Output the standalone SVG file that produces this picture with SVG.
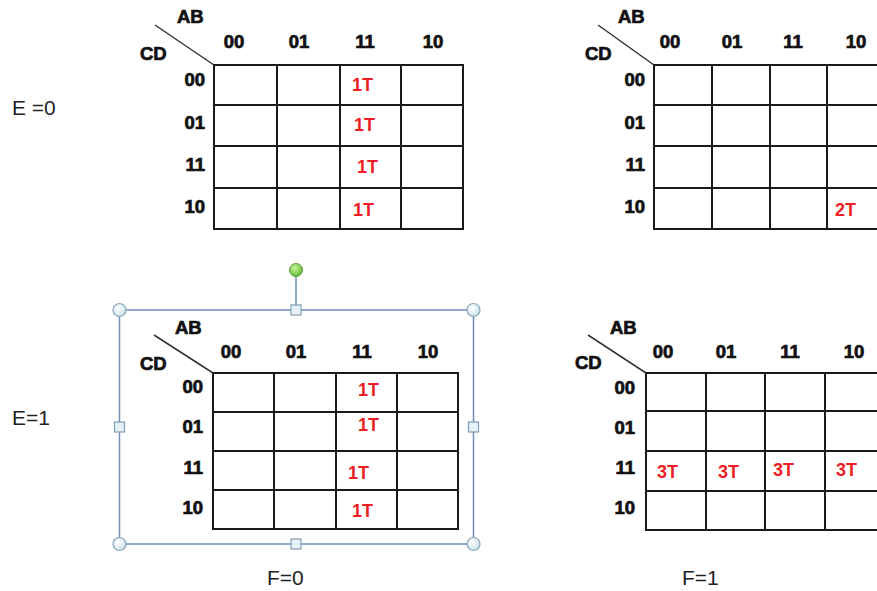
<svg xmlns="http://www.w3.org/2000/svg" width="877" height="591" viewBox="0 0 877 591">
<style>
.grid{fill:none;stroke:#1a1a1a;stroke-width:2}
.diag{stroke:#333;stroke-width:1.5}
.hd{font-family:"Liberation Sans",Arial,sans-serif;font-weight:bold;font-size:18.5px;fill:#111;stroke:#111;stroke-width:0.7}
.rl{text-anchor:end}
.cm{text-anchor:middle}
.val{font-family:"Liberation Sans",Arial,sans-serif;font-weight:bold;font-size:18px;fill:#ee1c24}
.lbl{font-family:"Liberation Sans",Arial,sans-serif;font-size:21px;fill:#222}
.sel{fill:none;stroke:#6f8fb5;stroke-width:1.5}
.hc{fill:url(#hg);stroke:#8aa5bb;stroke-width:1.2}
.hs{fill:#e6f1f6;stroke:#7f9fbb;stroke-width:1.2}
</style>
<defs>
<radialGradient id="hg" cx="0.4" cy="0.35" r="0.7">
<stop offset="0" stop-color="#ffffff"/>
<stop offset="1" stop-color="#c7dfe8"/>
</radialGradient>
<radialGradient id="gg" cx="0.4" cy="0.35" r="0.7">
<stop offset="0" stop-color="#c6f59a"/>
<stop offset="1" stop-color="#5cb82e"/>
</radialGradient>
</defs>
<rect width="877" height="591" fill="#fff"/>

<g id="label-e0"><text class="lbl" x="12" y="115">E =0</text></g>
<g id="label-e1"><text class="lbl" x="12" y="425">E=1</text></g>
<g id="label-f0"><text class="lbl" x="267" y="585">F=0</text></g>
<g id="label-f1"><text class="lbl" x="682" y="585">F=1</text></g>

<g id="kmap-e0-f0">
<line class="diag" x1="155" y1="25" x2="214" y2="65"/>
<path class="grid" d="M214,65H463V229H214Z M277,65V229 M340,65V229 M401,65V229 M214,105H463 M214,146H463 M214,188H463"/>
<text class="hd" x="177" y="23">AB</text>
<text class="hd" x="140" y="60">CD</text>
<text class="hd cm" x="234" y="48">00</text>
<text class="hd cm" x="299" y="48">01</text>
<text class="hd cm" x="365" y="48">11</text>
<text class="hd cm" x="433" y="48">10</text>
<text class="hd rl" x="205" y="86">00</text>
<text class="hd rl" x="205" y="129">01</text>
<text class="hd rl" x="205" y="171">11</text>
<text class="hd rl" x="205" y="213">10</text>
<text class="val" x="352" y="91">1T</text>
<text class="val" x="354" y="131">1T</text>
<text class="val" x="357" y="173">1T</text>
<text class="val" x="353" y="216">1T</text>
</g>

<g id="kmap-e0-f1">
<line class="diag" x1="598" y1="25" x2="654" y2="65"/>
<path class="grid" d="M654,65H884V229H654Z M712,65V229 M770,65V229 M827,65V229 M654,105H884 M654,146H884 M654,188H884"/>
<text class="hd" x="618" y="23">AB</text>
<text class="hd" x="585" y="60">CD</text>
<text class="hd cm" x="670" y="48">00</text>
<text class="hd cm" x="732" y="48">01</text>
<text class="hd cm" x="793" y="48">11</text>
<text class="hd cm" x="856" y="48">10</text>
<text class="hd rl" x="645" y="86">00</text>
<text class="hd rl" x="645" y="129">01</text>
<text class="hd rl" x="645" y="171">11</text>
<text class="hd rl" x="645" y="213">10</text>
<text class="val" x="835" y="216">2T</text>
</g>

<g id="selection">
<line class="sel" x1="296" y1="277" x2="296" y2="305"/>
<rect class="sel" x="119.5" y="310" width="354" height="234"/>
<circle cx="296" cy="270" r="6.5" fill="url(#gg)" stroke="#5a9a3a" stroke-width="1"/>
<circle class="hc" cx="119.5" cy="310" r="6.5"/>
<circle class="hc" cx="473.5" cy="310" r="6.5"/>
<circle class="hc" cx="119.5" cy="544" r="6.5"/>
<circle class="hc" cx="473.5" cy="544" r="6.5"/>
<rect class="hs" x="291" y="305" width="10" height="10"/>
<rect class="hs" x="291" y="539" width="10" height="10"/>
<rect class="hs" x="114.5" y="422" width="10" height="10"/>
<rect class="hs" x="468.5" y="422" width="10" height="10"/>
</g>

<g id="kmap-e1-f0">
<line class="diag" x1="154" y1="335" x2="213" y2="373"/>
<path class="grid" d="M213,373H458V529H213Z M274,373V529 M336,373V529 M397,373V529 M213,412H458 M213,451H458 M213,490H458"/>
<text class="hd" x="175" y="334">AB</text>
<text class="hd" x="140" y="370">CD</text>
<text class="hd cm" x="231" y="358">00</text>
<text class="hd cm" x="296" y="358">01</text>
<text class="hd cm" x="362" y="358">11</text>
<text class="hd cm" x="428" y="358">10</text>
<text class="hd rl" x="203" y="393">00</text>
<text class="hd rl" x="203" y="433">01</text>
<text class="hd rl" x="203" y="474">11</text>
<text class="hd rl" x="203" y="514">10</text>
<text class="val" x="358" y="396">1T</text>
<text class="val" x="358" y="431">1T</text>
<text class="val" x="348" y="479">1T</text>
<text class="val" x="352" y="517">1T</text>
</g>

<g id="kmap-e1-f1">
<line class="diag" x1="588" y1="335" x2="646" y2="373"/>
<path class="grid" d="M646,373H885V530H646Z M706,373V530 M765,373V530 M825,373V530 M646,411H885 M646,451H885 M646,491H885"/>
<text class="hd" x="610" y="334">AB</text>
<text class="hd" x="575" y="369">CD</text>
<text class="hd cm" x="663" y="358">00</text>
<text class="hd cm" x="726" y="358">01</text>
<text class="hd cm" x="790" y="358">11</text>
<text class="hd cm" x="854" y="358">10</text>
<text class="hd rl" x="635" y="394">00</text>
<text class="hd rl" x="635" y="434">01</text>
<text class="hd rl" x="635" y="474">11</text>
<text class="hd rl" x="635" y="514">10</text>
<text class="val" x="657" y="478">3T</text>
<text class="val" x="718" y="478">3T</text>
<text class="val" x="773" y="476">3T</text>
<text class="val" x="836" y="476">3T</text>
</g>
</svg>
